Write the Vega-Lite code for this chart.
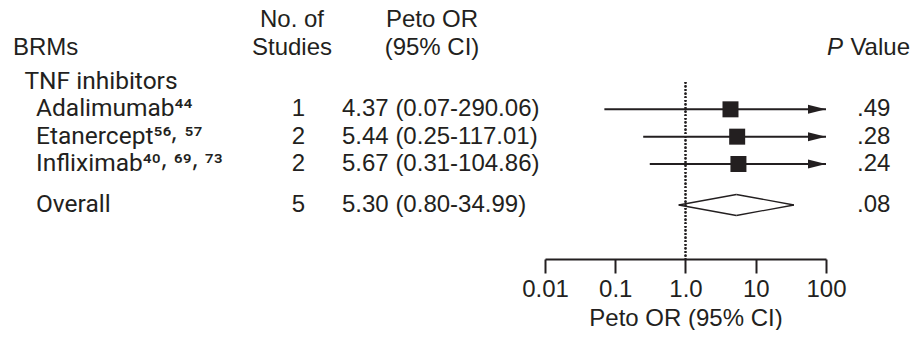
{
  "$schema": "https://vega.github.io/schema/vega-lite/v6.json",
  "padding": 0,
  "bounds": "flush",
  "spacing": 0,
  "background": "white",
  "config": {
    "view": {"stroke": null},
    "text": {"font": "Liberation Sans", "fontSize": 24, "color": "#231f20"}
  },
  "datasets": {
    "rows": [
      {"row": 1, "level": 1, "label": "TNF inhibitors", "type": "group"},
      {"row": 2, "level": 2, "label": "Adalimumab⁴⁴", "type": "study", "n": 1, "est": 4.37, "lo": 0.07, "hi": 290.06, "ci": "4.37 (0.07-290.06)", "p": ".49"},
      {"row": 3, "level": 2, "label": "Etanercept⁵⁶⸴ ⁵⁷", "type": "study", "n": 2, "est": 5.44, "lo": 0.25, "hi": 117.01, "ci": "5.44 (0.25-117.01)", "p": ".28"},
      {"row": 4, "level": 2, "label": "Infliximab⁴⁰⸴ ⁶⁹⸴ ⁷³", "type": "study", "n": 2, "est": 5.67, "lo": 0.31, "hi": 104.86, "ci": "5.67 (0.31-104.86)", "p": ".24"},
      {"row": 5.5, "level": 2, "label": "Overall", "type": "overall", "n": 5, "est": 5.30, "lo": 0.80, "hi": 34.99, "ci": "5.30 (0.80-34.99)", "p": ".08"}
    ]
  },
  "hconcat": [
    {
      "width": 265,
      "height": 259,
      "layer": [
        {
          "data": {"values": [{"row": 0, "level": 0, "label": "BRMs"}]},
          "mark": {"type": "text", "align": "left", "baseline": "alphabetic"},
          "encoding": {
            "x": {"field": "level", "type": "ordinal", "scale": {"type": "point", "domain": [0, 1, 2], "range": [13, 36], "padding": 0}, "axis": null},
            "y": {"field": "row", "type": "quantitative", "scale": {"domain": [-2, 7.476], "reverse": true, "nice": false, "zero": false}, "axis": null},
            "text": {"field": "label"}
          }
        },
        {
          "data": {"name": "rows"},
          "mark": {"type": "text", "align": "left", "baseline": "middle", "font": "Roboto", "fontSize": 24.5},
          "encoding": {
            "x": {"field": "level", "type": "ordinal", "scale": {"type": "point", "domain": [0, 1, 2], "range": [13, 36], "padding": 0}, "axis": null},
            "y": {"field": "row", "type": "quantitative", "scale": {"domain": [-2, 7.476], "reverse": true, "nice": false, "zero": false}, "axis": null},
            "text": {"field": "label"}
          }
        }
      ]
    },
    {
      "width": 54,
      "height": 259,
      "layer": [
        {
          "data": {"values": [{"row": -1, "label": "No. of"}, {"row": 0, "label": "Studies"}]},
          "mark": {"type": "text", "align": "center", "baseline": "alphabetic"},
          "encoding": {
            "y": {"field": "row", "type": "quantitative", "scale": {"domain": [-2, 7.476], "reverse": true, "nice": false, "zero": false}, "axis": null},
            "text": {"field": "label"}
          }
        },
        {
          "data": {"name": "rows"},
          "transform": [{"filter": "isValid(datum.n)"}],
          "mark": {"type": "text", "align": "center", "baseline": "middle", "dx": 6.5},
          "encoding": {
            "y": {"field": "row", "type": "quantitative", "scale": {"domain": [-2, 7.476], "reverse": true, "nice": false, "zero": false}, "axis": null},
            "text": {"field": "n"}
          }
        }
      ]
    },
    {
      "width": 226,
      "height": 259,
      "layer": [
        {
          "data": {"values": [{"row": -1, "label": "Peto OR"}, {"row": 0, "label": "(95% CI)"}]},
          "mark": {"type": "text", "align": "center", "baseline": "alphabetic"},
          "encoding": {
            "y": {"field": "row", "type": "quantitative", "scale": {"domain": [-2, 7.476], "reverse": true, "nice": false, "zero": false}, "axis": null},
            "text": {"field": "label"}
          }
        },
        {
          "data": {"name": "rows"},
          "transform": [{"filter": "isValid(datum.ci)"}],
          "mark": {"type": "text", "align": "left", "baseline": "middle", "dx": -90},
          "encoding": {
            "y": {"field": "row", "type": "quantitative", "scale": {"domain": [-2, 7.476], "reverse": true, "nice": false, "zero": false}, "axis": null},
            "text": {"field": "ci"}
          }
        }
      ]
    },
    {
      "width": 281,
      "height": 259,
      "data": {"name": "rows"},
      "layer": [
        {
          "mark": {"type": "rule", "color": "#231f20", "strokeWidth": 1.6, "strokeDash": [1.6, 2]},
          "encoding": {
            "x": {"datum": 1, "type": "quantitative", "scale": {"type": "log", "domain": [0.01, 100], "clamp": true, "nice": false},
              "axis": {"orient": "bottom", "values": [0.01, 0.1, 1, 10, 100], "labelExpr": "datum.value == 1 ? '1.0' : format(datum.value, '~g')", "title": "Peto OR (95% CI)", "grid": false, "domainColor": "#231f20", "domainWidth": 2, "tickColor": "#231f20", "tickWidth": 2, "tickSize": 14, "labelFont": "Liberation Sans", "labelFontSize": 24, "labelColor": "#231f20", "labelPadding": 4, "labelFlush": false, "labelOverlap": false, "titleFont": "Liberation Sans", "titleFontSize": 24, "titleFontWeight": "normal", "titleColor": "#231f20", "titlePadding": 5}},
            "y": {"datum": 1, "type": "quantitative", "scale": {"domain": [-2, 7.476], "reverse": true, "nice": false, "zero": false}, "axis": null},
            "y2": {"datum": 7.476}
          }
        },
        {
          "transform": [{"filter": "datum.type == 'study'"}],
          "mark": {"type": "rule", "color": "#231f20", "strokeWidth": 2},
          "encoding": {
            "x": {"field": "lo", "type": "quantitative"},
            "x2": {"field": "hi"},
            "y": {"field": "row", "type": "quantitative"}
          }
        },
        {
          "transform": [{"filter": "datum.type == 'study' && datum.hi > 100"}],
          "mark": {"type": "point", "shape": "M-1,-0.5L1,0L-1,0.5Z", "filled": true, "size": 324, "color": "#231f20", "opacity": 1, "xOffset": -9},
          "encoding": {
            "x": {"field": "hi", "type": "quantitative"},
            "y": {"field": "row", "type": "quantitative"}
          }
        },
        {
          "transform": [{"filter": "datum.type == 'study'"}],
          "mark": {"type": "point", "shape": "square", "filled": true, "size": 256, "color": "#231f20", "opacity": 1},
          "encoding": {
            "x": {"field": "est", "type": "quantitative"},
            "y": {"field": "row", "type": "quantitative"}
          }
        },
        {
          "transform": [{"filter": "datum.type == 'overall'"}],
          "mark": {"type": "rule", "color": "#231f20", "strokeWidth": 1.3, "y2Offset": -10.5},
          "encoding": {
            "x": {"field": "lo", "type": "quantitative"},
            "x2": {"field": "est"},
            "y": {"field": "row", "type": "quantitative"},
            "y2": {"field": "row"}
          }
        },
        {
          "transform": [{"filter": "datum.type == 'overall'"}],
          "mark": {"type": "rule", "color": "#231f20", "strokeWidth": 1.3, "y2Offset": 10.5},
          "encoding": {
            "x": {"field": "lo", "type": "quantitative"},
            "x2": {"field": "est"},
            "y": {"field": "row", "type": "quantitative"},
            "y2": {"field": "row"}
          }
        },
        {
          "transform": [{"filter": "datum.type == 'overall'"}],
          "mark": {"type": "rule", "color": "#231f20", "strokeWidth": 1.3, "yOffset": -10.5},
          "encoding": {
            "x": {"field": "est", "type": "quantitative"},
            "x2": {"field": "hi"},
            "y": {"field": "row", "type": "quantitative"},
            "y2": {"field": "row"}
          }
        },
        {
          "transform": [{"filter": "datum.type == 'overall'"}],
          "mark": {"type": "rule", "color": "#231f20", "strokeWidth": 1.3, "yOffset": 10.5},
          "encoding": {
            "x": {"field": "est", "type": "quantitative"},
            "x2": {"field": "hi"},
            "y": {"field": "row", "type": "quantitative"},
            "y2": {"field": "row"}
          }
        }
      ]
    },
    {
      "width": 62,
      "height": 259,
      "layer": [
        {
          "data": {"values": [{"row": 0, "label": "P"}]},
          "mark": {"type": "text", "align": "right", "baseline": "alphabetic", "fontStyle": "italic", "dx": -14},
          "encoding": {
            "y": {"field": "row", "type": "quantitative", "scale": {"domain": [-2, 7.476], "reverse": true, "nice": false, "zero": false}, "axis": null},
            "text": {"field": "label"}
          }
        },
        {
          "data": {"values": [{"row": 0, "label": "Value"}]},
          "mark": {"type": "text", "align": "right", "baseline": "alphabetic", "dx": 53},
          "encoding": {
            "y": {"field": "row", "type": "quantitative", "scale": {"domain": [-2, 7.476], "reverse": true, "nice": false, "zero": false}, "axis": null},
            "text": {"field": "label"}
          }
        },
        {
          "data": {"name": "rows"},
          "transform": [{"filter": "isValid(datum.p)"}],
          "mark": {"type": "text", "align": "left", "baseline": "middle"},
          "encoding": {
            "y": {"field": "row", "type": "quantitative", "scale": {"domain": [-2, 7.476], "reverse": true, "nice": false, "zero": false}, "axis": null},
            "text": {"field": "p"}
          }
        }
      ]
    }
  ]
}
